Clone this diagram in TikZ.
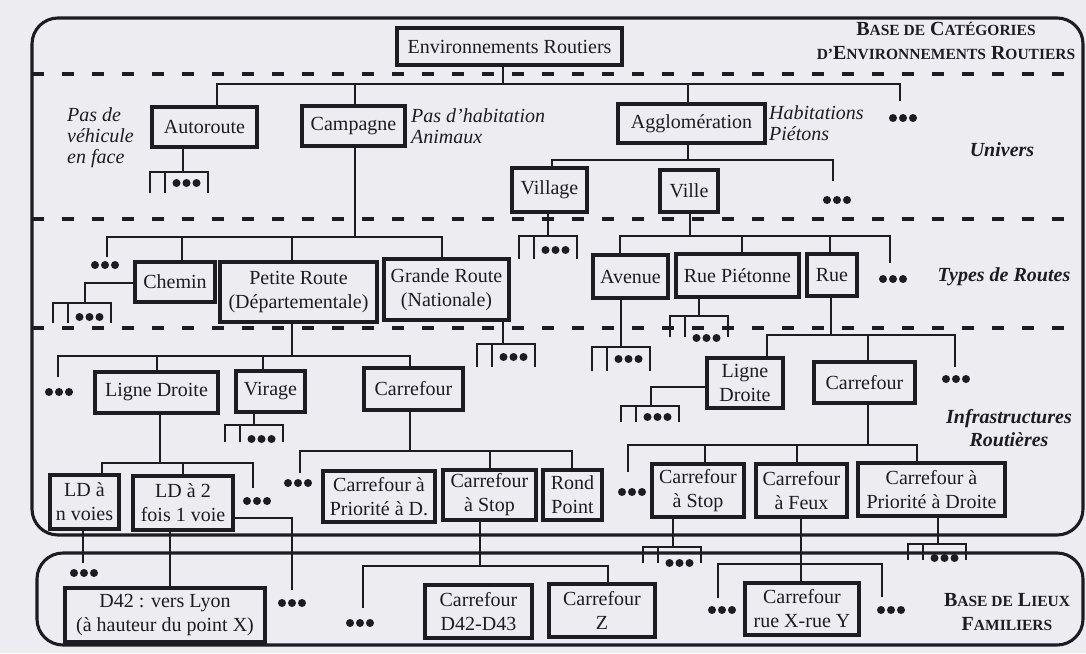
\documentclass[tikz,border=0pt]{standalone}
\usepackage{fontspec}
\setmainfont{Liberation Serif}
\usetikzlibrary{calc}
\definecolor{bg}{RGB}{236,236,241}
\definecolor{ink}{RGB}{28,28,34}
\newcommand\fsc[1]{{\fontsize{15.5}{15.5}\selectfont #1}}
\newcommand\mystub[5]{% name, left, top, drop length, dots offset
  \draw[conn] (#2,#3+#4) -- (#2,#3) -- (#2+58,#3) -- (#2+58,#3+#4);
  \draw[conn] (#2+15,#3) -- (#2+15,#3+#4);
  \node[dotsn] (#1) at (#2+36.5,#3+#5) {};}
\begin{document}
\begin{tikzpicture}[x=1pt,y=-1pt,
  box/.style={draw=ink, line width=3.1pt, fill=bg, inner sep=0pt, align=center, text=ink, font=\fontsize{20}{24}\selectfont},
  conn/.style={draw=ink, line width=2.8pt},
  sepline/.style={draw=ink, line width=3.3pt, dash pattern=on 12pt off 18pt},
  baseframe/.style={draw=ink, line width=3.1pt, rounded corners=26pt},
  annot/.style={text=ink, inner sep=0pt, align=left, font=\fontsize{20}{21}\selectfont\itshape},
  lvl/.style={text=ink, inner sep=0pt, align=center, font=\fontsize{20}{23}\selectfont\bfseries\itshape},
  basetxt/.style={text=ink, inner sep=0pt, align=center, font=\fontsize{20}{24}\selectfont\bfseries},
  dotsn/.style={inner sep=0pt, minimum width=31pt, minimum height=9pt,
    path picture={\foreach \dx in {-10,0,10}{\fill[ink] ([xshift=\dx pt]path picture bounding box.center) circle[radius=4pt];}}}
]
\fill[bg] (0,0) rectangle (1086,653);
\useasboundingbox (0,0) rectangle (1086,653);

% frames and level separators
\draw[baseframe] (32,18) rectangle (1083,535);
\draw[baseframe] (37,553) rectangle (1083,645);
\draw[sepline] (32,74) -- (1083,74);
\draw[sepline] (32,219) -- (1083,219);
\draw[sepline] (32,328) -- (1083,328);

% level labels
\node[basetxt] (b1) at (946,41) {B\fsc{ASE DE} C\fsc{ATÉGORIES}\\\fsc{D'}E\fsc{NVIRONNEMENTS} R\fsc{OUTIERS}};
\node[basetxt] (b2) at (1007,612) {B\fsc{ASE DE} L\fsc{IEUX}\\F\fsc{AMILIERS}};
\node[lvl] (l1) at (1002,150) {Univers};
\node[lvl] (l2) at (1004,277) {Types de Routes};
\node[lvl] (l3) at (1009,428) {Infrastructures\\Routières};

% annotations
\node[annot, anchor=west] (n1) at (67,138) {Pas de\\véhicule\\en face};
\node[annot, anchor=west] (n2) at (411,126) {Pas d'habitation\\Animaux};
\node[annot, anchor=west] (n3) at (769,123) {Habitations\\Piétons};

% connectors (drawn before boxes)
% level 1
\draw[conn] (503,65) -- (503,84);
\draw[conn] (217,107) |- (900,84) -- (900,101);
\draw[conn] (355,84) -- (355,106);
\draw[conn] (688,84) -- (688,104);
\node[dotsn] (dU1) at (903,118) {};
\draw[conn] (183,147) -- (183,172);
\mystub{sA}{150}{172}{21}{11}
% Agglomeration
\draw[conn] (688,143) -- (688,160);
\draw[conn] (552,168) |- (833,160) -- (833,181);
\node[dotsn] (dU2) at (837,200) {};
\draw[conn] (548,212) -- (548,236);
\mystub{sV}{519}{236}{23}{14}
% Campagne
\draw[conn] (355,146) -- (355,237);
\draw[conn] (107,257) |- (442,237) -- (442,259);
\draw[conn] (182,237) -- (182,262);
\draw[conn] (292,237) -- (292,262);
\node[dotsn] (dT1) at (105,265) {};
\draw[conn] (135,283) -| (85,303);
\mystub{sC}{53}{303}{20}{14}
% Ville
\draw[conn] (690,212) -- (690,236);
\draw[conn] (620,255) |- (890,236) -- (890,263);
\draw[conn] (742,236) -- (742,254);
\draw[conn] (830,236) -- (830,254);
\node[dotsn] (dT2) at (893,279) {};
\draw[conn] (621,298) -- (621,347);
\mystub{sAv}{592}{347}{24}{12}
\draw[conn] (699,297) -- (699,316);
\mystub{sP}{670}{316}{21}{22}
\draw[conn] (503,320) -- (503,344);
\mystub{sG}{477}{344}{23}{13}
% Petite Route
\draw[conn] (292,322) -- (292,356);
\draw[conn] (58,377) |- (410,356) -- (410,368);
\draw[conn] (157,356) -- (157,372);
\draw[conn] (263,356) -- (263,371);
\node[dotsn] (dI1) at (59,392) {};
\draw[conn] (254,412) -- (254,425);
\mystub{sVi}{225}{425}{17}{14}
% Rue
\draw[conn] (831,296) -- (831,335);
\draw[conn] (767,358) |- (955,335) -- (955,367);
\draw[conn] (868,335) -- (868,362);
\node[dotsn] (dI2) at (956,379) {};
\draw[conn] (707,387) -| (651,406);
\mystub{sL}{621}{406}{16}{11}
% Ligne Droite (left)
\draw[conn] (160,413) -- (160,463);
\draw[conn] (102,475) |- (253,463) -- (253,488);
\draw[conn] (183,463) -- (183,476);
\node[dotsn] (dI3) at (257,501) {};
% Carrefour (left)
\draw[conn] (410,410) -- (410,451);
\draw[conn] (300,473) |- (572,451) -- (572,470);
\draw[conn] (490,451) -- (490,470);
\node[dotsn] (dI4) at (298,483) {};
% Carrefour (right)
\draw[conn] (868,403) -- (868,445);
\draw[conn] (628,472) |- (917,445) -- (917,463);
\draw[conn] (705,445) -- (705,464);
\draw[conn] (797,445) -- (797,464);
\node[dotsn] (dI5) at (632,492) {};
\draw[conn] (673,517) -- (673,547);
\mystub{sS}{643}{547}{16}{16}
\draw[conn] (938,516) -- (938,544);
\mystub{sPr}{908}{544}{16}{14}
% Carrefour a Stop (left)
\draw[conn] (480,520) -- (480,566);
\draw[conn] (363,608) |- (608,566) -- (608,584);
\node[dotsn] (dL1) at (360,623) {};
% Carrefour a Feux
\draw[conn] (801,517) -- (801,583);
\draw[conn] (718,598) |- (882,564) -- (882,597);
\node[dotsn] (dL2) at (722,610) {};
\node[dotsn] (dL3) at (891,610) {};
% LD
\draw[conn] (83,529) -- (83,563);
\node[dotsn] (dL4) at (84,573) {};
\draw[conn] (170,530) -- (170,588);
\draw[conn] (233,518) -| (292,590);
\node[dotsn] (dL5) at (292,603) {};

% boxes
\node[box, minimum width=225pt, minimum height=37pt] (root) at (509.5,46.5) {Environnements Routiers};
\node[box, minimum width=105pt, minimum height=40pt] (autoroute) at (204.5,127) {Autoroute};
\node[box, minimum width=103pt, minimum height=40pt] (campagne) at (353.5,126) {Campagne};
\node[box, minimum width=147pt, minimum height=39pt] (agglo) at (691.5,123.5) {Agglomération};
\node[box, minimum width=75pt, minimum height=44pt] (village) at (549.5,190) {Village};
\node[box, minimum width=58pt, minimum height=42pt] (ville) at (689,191) {Ville};
\node[box, minimum width=80pt, minimum height=40pt] (chemin) at (175,282) {Chemin};
\node[box, minimum width=157pt, minimum height=60pt] (petite) at (298.5,292) {Petite Route\\(Départementale)};
\node[box, minimum width=125pt, minimum height=61pt] (grande) at (446.5,289.5) {Grande Route\\(Nationale)};
\node[box, minimum width=75pt, minimum height=43pt] (avenue) at (630.5,276.5) {Avenue};
\node[box, minimum width=123pt, minimum height=43pt] (pieton) at (737.5,275.5) {Rue Piétonne};
\node[box, minimum width=50pt, minimum height=42pt] (rue) at (832,275) {Rue};
\node[box, minimum width=123pt, minimum height=41pt] (ldL) at (156.5,392.5) {Ligne Droite};
\node[box, minimum width=69pt, minimum height=41pt] (virage) at (270.5,391.5) {Virage};
\node[box, minimum width=99pt, minimum height=42pt] (carL) at (413.5,389) {Carrefour};
\node[box, minimum width=76pt, minimum height=50pt] (ldR) at (745,383) {Ligne\\Droite};
\node[box, minimum width=101pt, minimum height=41pt] (carR) at (864.5,382.5) {Carrefour};
\node[box, minimum width=69pt, minimum height=54pt] (ldn) at (84.5,502) {LD à\\n voies};
\node[box, minimum width=100pt, minimum height=54pt] (ld2) at (183,503) {LD à 2\\fois 1 voie};
\node[box, minimum width=112pt, minimum height=51pt] (cprio) at (379,496.5) {Carrefour à\\Priorité à D.};
\node[box, minimum width=93pt, minimum height=50pt] (cstopL) at (489.5,495) {Carrefour\\à Stop};
\node[box, minimum width=59pt, minimum height=50pt] (rond) at (572.5,495) {Rond\\Point};
\node[box, minimum width=92pt, minimum height=53pt] (cstopR) at (698,490.5) {Carrefour\\à Stop};
\node[box, minimum width=91pt, minimum height=53pt] (feux) at (801.5,490.5) {Carrefour\\à Feux};
\node[box, minimum width=147pt, minimum height=53pt] (cprioR) at (931.5,489.5) {Carrefour à\\Priorité à Droite};
\node[box, minimum width=200pt, minimum height=54pt] (d42) at (165,615) {D42 : vers Lyon\\(à hauteur du point X)};
\node[box, minimum width=107pt, minimum height=53pt] (d4243) at (478.5,611.5) {Carrefour\\D42-D43};
\node[box, minimum width=106pt, minimum height=53pt] (cz) at (602,610.5) {Carrefour\\Z};
\node[box, minimum width=114pt, minimum height=52pt] (cxy) at (802,609) {Carrefour\\rue X-rue Y};
\end{tikzpicture}
\end{document}
